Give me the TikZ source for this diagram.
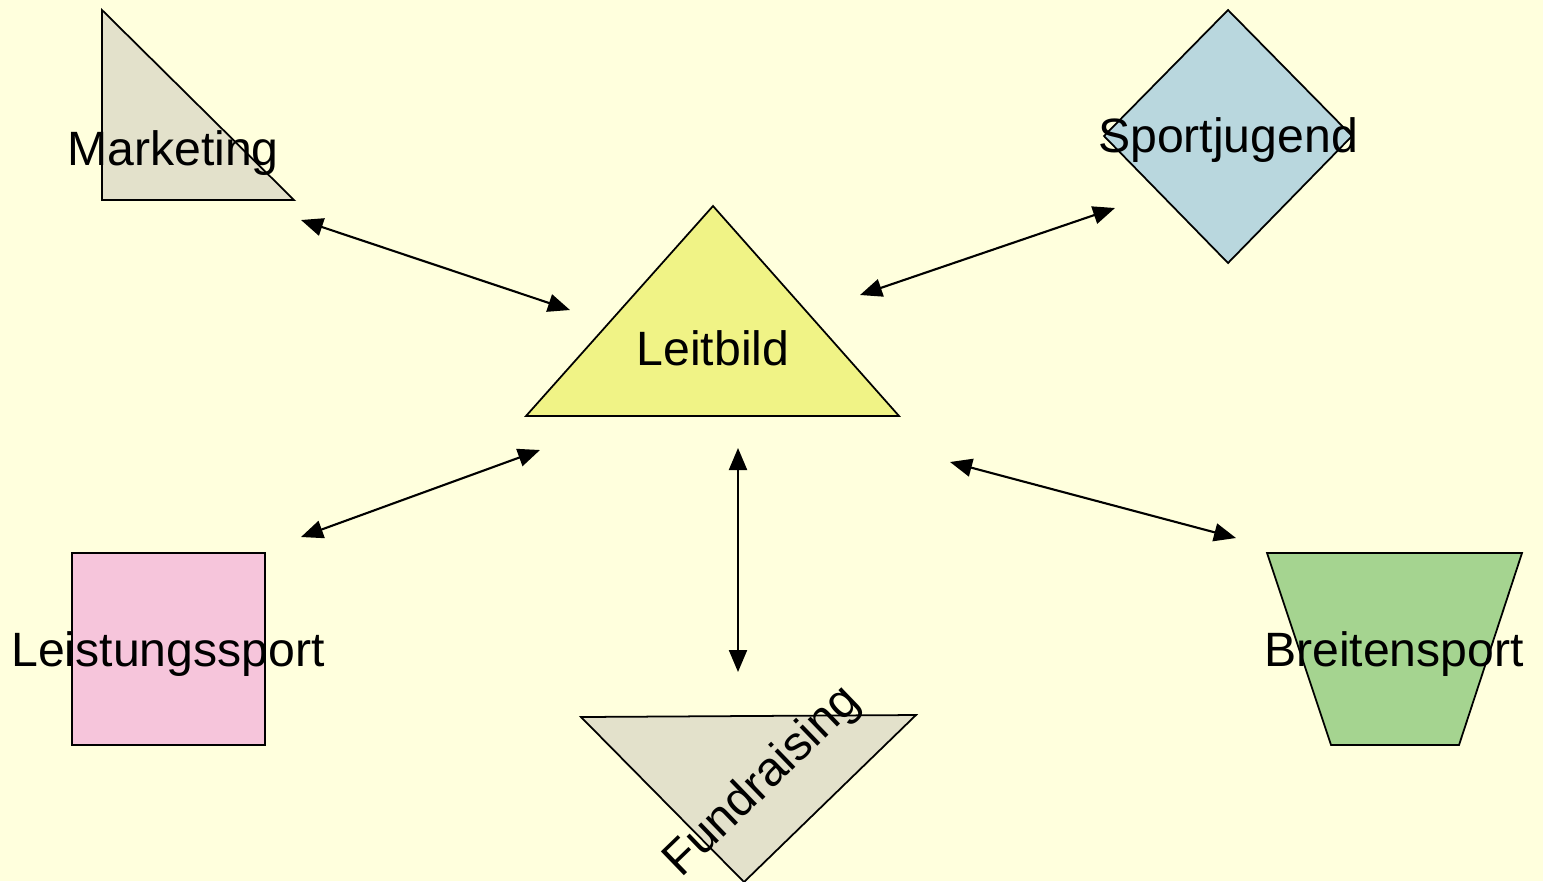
\documentclass[tikz,border=0pt]{standalone}
\usepackage{fontspec}
\setmainfont{Liberation Sans}
\usetikzlibrary{arrows.meta}
\definecolor{bg}{HTML}{FFFFDD}
\definecolor{beige}{HTML}{E3E1CB}
\definecolor{blueish}{HTML}{B9D7DE}
\definecolor{yel}{HTML}{F0F386}
\definecolor{pinkish}{HTML}{F6C5DB}
\definecolor{greenish}{HTML}{A5D490}
\tikzset{
  shapeline/.style={draw=black, line width=0.5pt, line join=miter},
  lbl/.style={font=\fontsize{13.7}{16}\selectfont, inner sep=0pt, text=black},
  dbl/.style={{Triangle[length=0.22cm,width=0.18cm]}-{Triangle[length=0.22cm,width=0.18cm]}, line width=0.6pt, black}
}
\begin{document}
\begin{tikzpicture}[x=0.01cm,y=-0.01cm]
\fill[bg] (0,0) rectangle (1543,881);
\useasboundingbox (0,0) rectangle (1543,881);
% shapes
\filldraw[shapeline, fill=beige] (102,10) -- (102,200) -- (294,200) -- cycle;
\filldraw[shapeline, fill=blueish] (1228,10) -- (1352,136) -- (1228,263) -- (1104,136) -- cycle;
\filldraw[shapeline, fill=yel] (713,206) -- (899,416) -- (526,416) -- cycle;
\filldraw[shapeline, fill=pinkish] (72,553) rectangle (265,745);
\filldraw[shapeline, fill=greenish] (1267,553) -- (1522,553) -- (1459,745) -- (1331,745) -- cycle;
\filldraw[shapeline, fill=beige] (581,717) -- (916,715) -- (744,882) -- cycle;
% labels
\node[lbl] (marketing) at (173,153) {Marketing};
\node[lbl] (sportjugend) at (1228,140) {Sportjugend};
\node[lbl] (leitbild) at (713,348) {Leitbild};
\node[lbl] (leistung) at (168,654) {Leistungssport};
\node[lbl] (breiten) at (1394,654) {Breitensport};
\node[lbl, rotate=44] (fund) at (763,782) {Fundraising};
% connector endpoints
\coordinate (mA) at (301,220);
\coordinate (mB) at (570,310);
\coordinate (sA) at (860,295);
\coordinate (sB) at (1115,208);
\coordinate (lA) at (540,450);
\coordinate (lB) at (301,537);
\coordinate (fA) at (738,448);
\coordinate (fB) at (738,672);
\coordinate (bA) at (950,462);
\coordinate (bB) at (1236,538);
\draw[dbl] (mA) -- (mB);
\draw[dbl] (sA) -- (sB);
\draw[dbl] (lA) -- (lB);
\draw[dbl] (fA) -- (fB);
\draw[dbl] (bA) -- (bB);
\end{tikzpicture}
\end{document}
